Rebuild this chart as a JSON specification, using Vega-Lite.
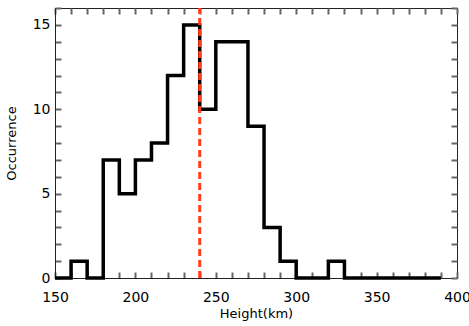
{
  "$schema": "https://vega.github.io/schema/vega-lite/v6.json",
  "width": 402,
  "height": 270,
  "autosize": "none",
  "padding": {"left": 55, "top": 8, "right": 12, "bottom": 48},
  "config": {
    "view": {"stroke": "#222", "strokeWidth": 1},
    "font": "DejaVu Sans",
    "axis": {"grid": false, "domainColor": "#222", "labelColor": "black", "titleColor": "black", "labelFontSize": 14, "titleFontSize": 13, "titleFontWeight": "normal", "tickWidth": 2, "tickColor": "#666"}
  },
  "datasets": {
    "hist": [
      {"height": 150, "count": 0}, {"height": 160, "count": 1}, {"height": 170, "count": 0},
      {"height": 180, "count": 7}, {"height": 190, "count": 5}, {"height": 200, "count": 7},
      {"height": 210, "count": 8}, {"height": 220, "count": 12}, {"height": 230, "count": 15},
      {"height": 240, "count": 10}, {"height": 250, "count": 14}, {"height": 260, "count": 14},
      {"height": 270, "count": 9}, {"height": 280, "count": 3}, {"height": 290, "count": 1},
      {"height": 300, "count": 0}, {"height": 310, "count": 0}, {"height": 320, "count": 1},
      {"height": 330, "count": 0}, {"height": 340, "count": 0}, {"height": 350, "count": 0},
      {"height": 360, "count": 0}, {"height": 370, "count": 0}, {"height": 380, "count": 0},
      {"height": 390, "count": 0}
    ],
    "mark": [{"h": 240, "lo": 0, "hi": 16}]
  },
  "layer": [
    {
      "data": {"name": "hist"},
      "mark": {"type": "line", "interpolate": "step-after", "color": "black", "strokeWidth": 3.5, "strokeJoin": "miter"},
      "encoding": {
        "x": {"field": "height", "type": "quantitative", "scale": {"domain": [150, 400], "nice": false},
          "axis": {"orient": "bottom", "title": "Height(km)", "values": [150,160,170,180,190,200,210,220,230,240,250,260,270,280,290,300,310,320,330,340,350,360,370,380,390,400], "labelExpr": "datum.value % 50 === 0 ? datum.label : ''", "tickSize": -6, "labelPadding": 18, "titlePadding": 3, "labelFlush": false, "labelOverlap": false}},
        "y": {"field": "count", "type": "quantitative", "scale": {"domain": [0, 16], "nice": false},
          "axis": {"orient": "left", "title": "Occurrence", "values": [0,1,2,3,4,5,6,7,8,9,10,11,12,13,14,15,16], "labelExpr": "datum.value % 5 === 0 ? datum.label : ''", "tickSize": -6, "labelPadding": 11, "titlePadding": 14, "labelFlush": false, "labelOverlap": false}}
      }
    },
    {
      "data": {"name": "mark"},
      "mark": {"type": "rule", "color": "#FF3D1A", "strokeWidth": 3, "strokeDash": [7, 4]},
      "encoding": {
        "x": {"field": "h", "type": "quantitative",
          "axis": {"orient": "top", "title": null, "labels": false, "domain": false, "values": [150,160,170,180,190,200,210,220,230,240,250,260,270,280,290,300,310,320,330,340,350,360,370,380,390,400], "tickSize": -6}},
        "y": {"field": "lo", "type": "quantitative",
          "axis": {"orient": "right", "title": null, "labels": false, "domain": false, "values": [0,1,2,3,4,5,6,7,8,9,10,11,12,13,14,15,16], "tickSize": 6, "offset": -6}},
        "y2": {"field": "hi"}
      }
    }
  ],
  "resolve": {"axis": {"x": "independent", "y": "independent"}}
}
